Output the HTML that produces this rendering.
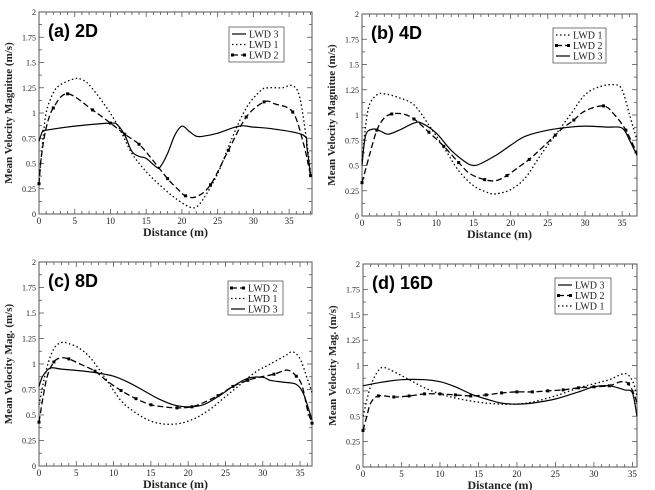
<!DOCTYPE html>
<html><head><meta charset="utf-8"><style>
html,body{margin:0;padding:0;background:#fff;}
svg{display:block;}
</style></head><body>
<svg id="fig" width="655" height="490" viewBox="0 0 655 490" xmlns="http://www.w3.org/2000/svg"></svg>
<script>
// ---- data (distance m, velocity m/s) ----
const aLWD3 = [[0,0.72],[0.5,0.82],[1,0.83],[5,0.87],[10,0.9],[11,0.88],[12,0.78],[13,0.62],[14,0.57],[15,0.55],[16.5,0.46],[17,0.47],[18,0.6],[19,0.78],[20,0.87],[21,0.82],[22,0.77],[23,0.77],[25,0.8],[28,0.87],[30,0.86],[33,0.84],[37,0.78],[37.5,0.65],[38,0.38]];
const aLWD1 = [[0,0.3],[0.5,0.7],[1,1.0],[2,1.2],[3,1.28],[5,1.34],[6,1.33],[7,1.28],[9,1.1],[11,0.88],[13,0.6],[15,0.42],[17,0.28],[19,0.16],[21,0.07],[22,0.07],[23,0.15],[25,0.4],[27,0.75],[29,1.05],[31,1.22],[32,1.25],[34,1.25],[35.5,1.27],[36.5,1.15],[37.5,0.7],[38,0.4]];
const aLWD2 = [[0,0.3],[0.3,0.55],[1,0.85],[2,1.05],[4,1.19],[7.5,1.03],[10,0.9],[12,0.79],[14,0.69],[15.5,0.57],[18,0.35],[19.5,0.24],[20.5,0.18],[22,0.17],[24,0.29],[26.5,0.63],[29,0.96],[31.5,1.11],[33,1.09],[35.5,1.01],[37,0.7],[38,0.38]];
const bLWD1 = [[0,0.55],[0.5,0.9],[1,1.1],[2,1.2],[3,1.21],[5,1.17],[7,1.1],[9,0.9],[11,0.68],[13,0.45],[15,0.3],[17,0.23],[18,0.22],[20,0.26],[22,0.38],[24,0.6],[26,0.8],[28,1.0],[30,1.2],[32,1.28],[34,1.3],[35,1.25],[36,1.0],[37,0.75]];
const bLWD2 = [[0,0.33],[1,0.6],[2,0.85],[3,0.97],[4,1.01],[5.5,1.01],[7,0.96],[9,0.83],[11,0.69],[13,0.53],[14.5,0.42],[16.5,0.36],[18,0.35],[19.5,0.4],[21,0.48],[22.5,0.56],[24,0.66],[26,0.8],[27,0.87],[28.5,0.95],[30,1.04],[32.5,1.09],[34,1.0],[35.5,0.85],[37,0.62]];
const bLWD3 = [[0,0.5],[0.5,0.8],[1.5,0.86],[2.5,0.84],[3.5,0.81],[5,0.85],[7,0.92],[8,0.92],[10,0.82],[12,0.65],[14,0.53],[15,0.5],[16,0.52],[18,0.6],[20,0.7],[22,0.79],[25,0.85],[28,0.88],[30,0.89],[33,0.88],[35,0.87],[36,0.75],[37,0.6]];
const cLWD2 = [[0,0.43],[1,0.85],[2,1.02],[3,1.06],[4,1.05],[5.5,1.0],[7.5,0.93],[9,0.84],[11,0.74],[13,0.66],[15,0.6],[16.7,0.58],[18.5,0.57],[20.5,0.58],[22,0.62],[24,0.69],[26,0.78],[28,0.84],[29.5,0.87],[31.5,0.9],[33.3,0.94],[34.5,0.88],[35.3,0.78],[36,0.55],[36.6,0.42]];
const cLWD1 = [[0,0.6],[1,0.95],[2,1.15],[3,1.21],[4,1.2],[5.5,1.15],[7,1.05],[9,0.85],[11,0.64],[13,0.52],[15,0.44],[17,0.41],[19,0.42],[21,0.47],[23,0.56],[25,0.68],[27,0.8],[29,0.92],[31,1.0],[33,1.08],[34,1.12],[35,1.05],[36,0.85],[36.6,0.72]];
const cLWD3 = [[0,0.78],[0.5,0.88],[1.5,0.96],[3,0.95],[6,0.93],[8,0.91],[10,0.88],[12,0.82],[14,0.74],[16,0.66],[18,0.6],[20,0.58],[22,0.6],[24,0.68],[26,0.78],[28,0.86],[30,0.87],[31,0.84],[33,0.82],[34.5,0.8],[35.5,0.7],[36.6,0.45]];
const dLWD3 = [[0,0.8],[2,0.83],[5,0.86],[8,0.86],[10,0.84],[12,0.79],[14,0.72],[16,0.67],[18,0.63],[20,0.62],[22,0.63],[25,0.67],[28,0.74],[30,0.79],[32,0.8],[34,0.76],[35,0.73],[35.6,0.5]];
const dLWD2 = [[0,0.36],[0.5,0.5],[1,0.63],[2,0.7],[4,0.69],[6,0.7],[8,0.72],[10,0.72],[12,0.71],[14,0.7],[16,0.71],[18,0.73],[20,0.74],[22,0.74],[24,0.75],[26,0.76],[28,0.78],[30,0.79],[32,0.8],[33.5,0.84],[34.5,0.82],[35.3,0.7],[35.6,0.62]];
const dLWD1 = [[0,0.5],[1,0.8],[2,0.95],[2.7,0.98],[4,0.94],[6,0.86],[8,0.78],[10,0.72],[12,0.68],[14,0.65],[16,0.63],[18,0.62],[20,0.62],[22,0.64],[25,0.7],[28,0.78],[30,0.82],[32,0.86],[34,0.92],[35,0.85],[35.6,0.7]];
const xTicks = [0,5,10,15,20,25,30,35];
const yTicks = [0,0.25,0.5,0.75,1,1.25,1.5,1.75,2];
const yTickLabels = ["0","0.25","0.5","0.75","1","1.25","1.5","1.75","2"];

const NS="http://www.w3.org/2000/svg";
const svg=document.getElementById('fig');
function mk(tag,attrs,parent){const e=document.createElementNS(NS,tag);for(const k in attrs)e.setAttribute(k,attrs[k]);(parent||svg).appendChild(e);return e;}
const styles={
 "LWD 1":{dash:"1.5,2.5",w:1.3,marker:false},
 "LWD 2":{dash:"6,3",w:1.3,marker:true},
 "LWD 3":{dash:"",w:1.2,marker:false}
};
function smoothPath(pts){
 let d="M"+pts[0][0].toFixed(1)+","+pts[0][1].toFixed(1);
 for(let i=0;i<pts.length-1;i++){
  const p0=pts[i-1]||pts[i],p1=pts[i],p2=pts[i+1],p3=pts[i+2]||p2;
  const c1=[p1[0]+(p2[0]-p0[0])/6,p1[1]+(p2[1]-p0[1])/6];
  const c2=[p2[0]-(p3[0]-p1[0])/6,p2[1]-(p3[1]-p1[1])/6];
  d+=" C"+c1[0].toFixed(1)+","+c1[1].toFixed(1)+" "+c2[0].toFixed(1)+","+c2[1].toFixed(1)+" "+p2[0].toFixed(1)+","+p2[1].toFixed(1);
 }
 return d;
}
const panels=[
 {id:"a",title:"(a) 2D",L:39,T:12,R:312,B:214,xmax:38.2,ytitle:"Mean Velocity Magnitue (m/s)",series:[["LWD 3",aLWD3],["LWD 1",aLWD1],["LWD 2",aLWD2]],leg:[229,27,55,35]},
 {id:"b",title:"(b) 4D",L:362,T:14,R:637,B:216,xmax:37,ytitle:"Mean Velocity Magnitue (m/s)",series:[["LWD 1",bLWD1],["LWD 2",bLWD2],["LWD 3",bLWD3]],leg:[553,28,53,35]},
 {id:"c",title:"(c) 8D",L:39,T:262,R:312,B:466,xmax:36.6,ytitle:"Mean Velocity Mag. (m/s)",series:[["LWD 2",cLWD2],["LWD 1",cLWD1],["LWD 3",cLWD3]],leg:[228,281,55,34]},
 {id:"d",title:"(d) 16D",L:363,T:264,R:637,B:467,xmax:35.6,ytitle:"Mean Velocity Mag. (m/s)",series:[["LWD 3",dLWD3],["LWD 2",dLWD2],["LWD 1",dLWD1]],leg:[555,278,56,36]}
];
panels.forEach(p=>{
 const g=mk('g',{});
 
 
 const sx=v=>p.L+(p.R-p.L)*v/p.xmax, sy=v=>p.B-(p.B-p.T)*v/2;
 const frame=mk('rect',{x:p.L,y:p.T,width:p.R-p.L,height:p.B-p.T,fill:"none",stroke:"#555","stroke-width":1},g);
 
 
 for(let v=0;v<=p.xmax;v+=1){
  const major=v%5===0, len=major?5:3, X=sx(v);
  mk('line',{x1:X,y1:p.B,x2:X,y2:p.B-len,stroke:"#555","stroke-width":0.8},g);
  mk('line',{x1:X,y1:p.T,x2:X,y2:p.T+len,stroke:"#555","stroke-width":0.8},g);
 }
 xTicks.forEach(v=>{
  const t=mk('text',{x:sx(v),y:p.B+10,"font-family":"Liberation Serif, serif","font-size":9,"text-anchor":"middle",fill:"#222"},g);
  t.textContent=v;
  
  
 });
 for(let v=0;v<=2.001;v+=0.125){
  const major=Math.abs(v*4-Math.round(v*4))<1e-6, len=major?5:3, Y=sy(v);
  mk('line',{x1:p.L,y1:Y,x2:p.L+len,y2:Y,stroke:"#555","stroke-width":0.8},g);
  mk('line',{x1:p.R,y1:Y,x2:p.R-len,y2:Y,stroke:"#555","stroke-width":0.8},g);
 }
 yTicks.forEach((v,i)=>{
  const t=mk('text',{x:p.L-3,y:sy(v)+3,"font-family":"Liberation Serif, serif","font-size":8,"text-anchor":"end",fill:"#222"},g);
  t.textContent=yTickLabels[i];
  
  
 });
 const xt=mk('text',{x:(p.L+p.R)/2,y:p.B+22,"font-family":"Liberation Serif, serif","font-size":12,"font-weight":"bold","text-anchor":"middle",fill:"#222"},g);
 xt.textContent="Distance (m)";
 
 
 const yx=p.L-27, yy=(p.T+p.B)/2;
 const yt=mk('text',{x:yx,y:yy,transform:`rotate(-90 ${yx} ${yy})`,"font-family":"Liberation Serif, serif","font-size":11,"font-weight":"bold","text-anchor":"middle",fill:"#222"},g);
 yt.textContent=p.ytitle;
 
 
 const tt=mk('text',{x:p.L+9,y:p.T+25,"font-family":"Liberation Sans, sans-serif","font-size":18,"font-weight":"bold",fill:"#000"},g);
 tt.textContent=p.title;
 
 
 p.series.forEach(([name,data])=>{
  const st=styles[name];
  const pts=data.map(d=>[sx(d[0]),sy(d[1])]);
  const path=mk('path',{d:smoothPath(pts),fill:"none",stroke:"#000","stroke-width":st.w,"stroke-dasharray":st.dash},g);
  
  
  if(st.marker){
   let last=-99;
   data.forEach(d=>{
    if(d[0]-last<1.9)return; last=d[0];
    const m=mk('rect',{x:sx(d[0])-1.5,y:sy(d[1])-1.5,width:3,height:3,fill:"#000"},g);
    
    
   });
  }
 });
 const [lx,ly,lw,lh]=p.leg;
 const lg=mk('g',{},g);
 
 
 mk('rect',{x:lx,y:ly,width:lw,height:lh,fill:"#fff",stroke:"#555","stroke-width":0.8},lg);
 p.series.forEach(([name],i)=>{
  const st=styles[name], Y=ly+7+i*10.5;
  mk('line',{x1:lx+3,y1:Y,x2:lx+17,y2:Y,stroke:"#000","stroke-width":st.w,"stroke-dasharray":st.dash},lg);
  if(st.marker){mk('rect',{x:lx+2,y:Y-1.5,width:3,height:3,fill:"#000"},lg);mk('rect',{x:lx+14,y:Y-1.5,width:3,height:3,fill:"#000"},lg);}
  const t=mk('text',{x:lx+20,y:Y+3.5,"font-family":"Liberation Serif, serif","font-size":10,fill:"#222"},lg);
  t.textContent=name;
  
  
 });
});
</script>
</body></html>
